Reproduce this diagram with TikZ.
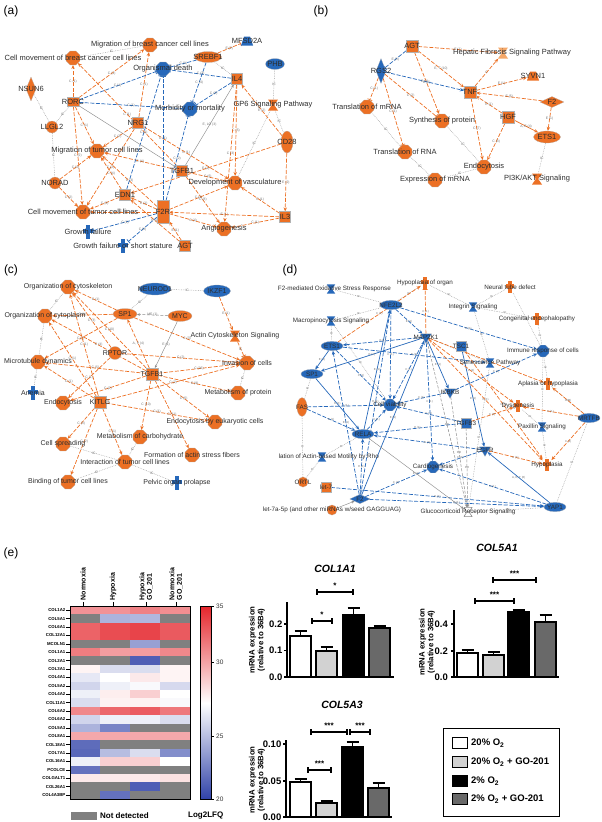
\documentclass[tikz,border=0pt]{standalone}
\usepackage{fontspec}
\setmainfont{Liberation Sans}
\usetikzlibrary{shapes.geometric,arrows.meta,backgrounds}

\definecolor{iporange}{RGB}{236,112,36}
\definecolor{ipblue}{RGB}{38,104,186}
\definecolor{iplight}{RGB}{245,168,105}
\definecolor{labgray}{RGB}{45,45,45}
\definecolor{hmred}{RGB}{228,38,44}
\definecolor{hmblue}{RGB}{48,66,168}
\definecolor{hmgray}{RGB}{128,128,128}
\definecolor{barlight}{RGB}{210,210,210}
\definecolor{bardark}{RGB}{105,105,105}

\tikzset{
  % node shapes
  ipanode/.style={inner sep=0pt, draw=black!30, line width=0.2pt},
  func/.style={ipanode, regular polygon, regular polygon sides=8, minimum size=15pt, fill=#1},
  sq/.style={ipanode, rectangle, minimum size=11pt, fill=#1},
  ell/.style={ipanode, ellipse, minimum width=24pt, minimum height=11pt, fill=#1},
  vell/.style={ipanode, ellipse, minimum width=12pt, minimum height=22pt, fill=#1},
  circ/.style={ipanode, circle, minimum size=12pt, fill=#1},
  vrect/.style={ipanode, rectangle, minimum width=12pt, minimum height=23pt, fill=#1},
  vdia/.style={ipanode, diamond, minimum width=10pt, minimum height=24pt, fill=#1},
  hdia/.style={ipanode, diamond, minimum width=24pt, minimum height=11pt, fill=#1},
  kin/.style={ipanode, regular polygon, regular polygon sides=3, shape border rotate=180, minimum size=15pt, fill=#1},
  trap/.style={rectangle, inner sep=0pt, minimum width=12pt, minimum height=9pt,
    path picture={\fill[#1] (path picture bounding box.south west) -- (path picture bounding box.south east)
      -- ([xshift=-3pt]path picture bounding box.north east) -- ([xshift=3pt]path picture bounding box.north west) -- cycle;}},
  hg/.style={rectangle, inner sep=0pt, minimum width=10pt, minimum height=11pt,
    path picture={\fill[#1] (path picture bounding box.north west) -- (path picture bounding box.north east)
      -- ([xshift=1.2pt]path picture bounding box.center) -- (path picture bounding box.south east)
      -- (path picture bounding box.south west) -- ([xshift=-1.2pt]path picture bounding box.center) -- cycle;}},
  hgw/.style={rectangle, inner sep=0pt, minimum width=10pt, minimum height=11pt,
    path picture={\filldraw[fill=white, draw=black!45, line width=0.6pt] (path picture bounding box.north west) -- (path picture bounding box.north east)
      -- ([xshift=1.2pt]path picture bounding box.center) -- (path picture bounding box.south east)
      -- (path picture bounding box.south west) -- ([xshift=-1.2pt]path picture bounding box.center) -- cycle;}},
  dis/.style={rectangle, inner sep=0pt, minimum width=10pt, minimum height=14pt,
    path picture={\fill[#1] ([xshift=-2pt]path picture bounding box.south) rectangle ([xshift=2pt]path picture bounding box.north);
      \fill[#1] ([yshift=-1pt]path picture bounding box.west) rectangle ([yshift=3pt]path picture bounding box.east);}},
  % texts
  ltxt/.style={font=\fontsize{7.5}{8}\selectfont, text=labgray, inner sep=0pt},
  lab/.style={label={[ltxt]center:{#1}}},
  el/.style={font=\fontsize{3.4}{3.4}\selectfont, text=black!55, inner sep=0.4pt},
  plab/.style={font=\fontsize{12}{12}\selectfont, inner sep=0pt},
  % connectors
  act/.style={draw=iporange, line width=0.7pt, dash pattern=on 4pt off 1.6pt, -{Stealth[length=4pt,width=3.4pt]}},
  acti/.style={draw=iporange, line width=0.7pt, dash pattern=on 4pt off 1.6pt, -{Bar[width=5pt]}},
  osol/.style={draw=iporange, line width=0.7pt, -{Stealth[length=4pt,width=3.4pt]}},
  inh/.style={draw=ipblue, line width=0.7pt, dash pattern=on 4pt off 1.6pt, -{Bar[width=5pt]}},
  bact/.style={draw=ipblue, line width=0.7pt, dash pattern=on 4pt off 1.6pt, -{Stealth[length=4pt,width=3.4pt]}},
  bsol/.style={draw=ipblue, line width=0.7pt, -{Stealth[length=4pt,width=3.4pt]}},
  ic/.style={draw=black!40, line width=0.45pt, dash pattern=on 0.7pt off 1pt},
  gsol/.style={draw=black!45, line width=0.45pt, -{Stealth[length=3pt,width=2.6pt]}},
  gdash/.style={draw=black!45, line width=0.5pt, dash pattern=on 3pt off 1.5pt, -{Stealth[length=3pt,width=2.6pt]}},
  % heat map and bar charts
  rowlab/.style={font=\bfseries\fontsize{4.3}{4.3}\selectfont, anchor=east, inner sep=0.5pt},
  collab/.style={font=\bfseries\fontsize{7}{7.6}\selectfont, rotate=90, anchor=west, align=left, inner sep=0.5pt},
  cblab/.style={font=\fontsize{6.5}{6.5}\selectfont, anchor=west, inner sep=0pt, text=black!80},
  keylab/.style={font=\bfseries\fontsize{8}{8}\selectfont, anchor=west, inner sep=0pt},
  axisline/.style={line width=1.2pt},
  barbox/.style={draw=black, line width=1.2pt},
  ticklab/.style={font=\bfseries\fontsize{9.5}{9.5}\selectfont, anchor=east, inner sep=0pt},
  ylab/.style={font=\bfseries\fontsize{7.8}{8.6}\selectfont, rotate=90, align=center, inner sep=0pt},
  ctitle/.style={font=\bfseries\itshape\fontsize{10.5}{10.5}\selectfont, inner sep=0pt},
  star/.style={font=\bfseries\fontsize{8}{8}\selectfont, inner sep=0pt},
  legtext/.style={font=\bfseries\fontsize{9.5}{9.5}\selectfont, anchor=west, inner sep=0pt},
}

\begin{document}
\begin{tikzpicture}[x=1pt, y=-1pt, font=\fontsize{7.5}{8}\selectfont]
  \useasboundingbox (0,0) rectangle (602,822);

  % Panel letters
  \node[plab] (lab-a) at (11,11) {(a)} ;
  \node[plab] (lab-b) at (321,11) {(b)} ;
  \node[plab] (lab-c) at (11,270) {(c)} ;
  \node[plab] (lab-d) at (290,270) {(d)} ;
  \node[plab] (lab-e) at (11,553) {(e)} ;

  % (a) Nodes
  \node[func=iporange, lab={Migration of breast cancer cell lines}] (a-brmig) at (150,45) {} ; %
  \node[func=iporange, lab={Cell movement of breast cancer cell lines}] (a-brmov) at (73,58) {} ; %
  \node[trap=ipblue, lab={MFSD2A}] (a-mfsd) at (247,41) {} ; %
  \node[ell=iporange, minimum width=27pt, lab={SREBF1}] (a-srebf) at (208,57) {} ; %
  \node[ell=ipblue, minimum width=19pt, lab={PHB}] (a-phb) at (275,64) {} ; %
  \node[func=ipblue, lab={Organismal death}] (a-death) at (163,69) {} ; %
  \node[sq=iporange, lab={IL4}] (a-il4) at (237,79) {} ; %
  \node[vdia=iporange, lab={NSUN6}] (a-nsun) at (31,89) {} ; %
  \node[sq=iporange, minimum width=12pt, minimum height=9pt, lab={RORC}] (a-rorc) at (73,102) {} ; %
  \node[func=ipblue, lab={Morbidity or mortality}] (a-morb) at (190,109) {} ; %
  \node[hg=iporange, lab={GP6 Signaling Pathway}] (a-gp6) at (273,105) {} ; %
  \node[circ=iporange, lab={LLGL2}] (a-llgl) at (52,127) {} ; %
  \node[sq=iporange, lab={NRG1}] (a-nrg) at (138,123) {} ; %
  \node[vell=iporange, lab={CD28}] (a-cd28) at (287,142) {} ; %
  \node[func=iporange, lab={Migration of tumor cell lines}] (a-tumig) at (97,151) {} ; %
  \node[sq=iporange, lab={TGFB1}] (a-tgfb) at (182,171) {} ; %
  \node[circ=iporange, lab={NORAD}] (a-norad) at (55,183) {} ; %
  \node[func=iporange, lab={Development of vasculature}] (a-vasc) at (235,183) {} ; %
  \node[sq=iporange, lab={EDN1}] (a-edn) at (125,195) {} ; %
  \node[vrect=iporange, lab={F2R}] (a-f2r) at (163,212) {} ; %
  \node[func=iporange, lab={Cell movement of tumor cell lines}] (a-tumov) at (83,212) {} ; %
  \node[sq=iporange, lab={IL3}] (a-il3) at (285,217) {} ; %
  \node[func=iporange, lab={Angiogenesis}] (a-angio) at (224,229) {} ; %
  \node[dis=ipblue, lab={Growth failure}] (a-gf) at (88,232) {} ; %
  \node[dis=ipblue, lab={Growth failure or short stature}] (a-gfs) at (123,246) {} ; %
  \node[sq=iporange, lab={AGT}] (a-agt) at (185,246) {} ; %

  % (a) Edges
  \begin{scope}[on background layer]
    \foreach \s/\t in {a-nsun/a-llgl, a-llgl/a-rorc, a-llgl/a-norad, a-brmov/a-brmig, a-srebf/a-il4,
        a-phb/a-gp6, a-gp6/a-cd28, a-gp6/a-vasc}
      \draw[ic] (\s) -- node[el]{IC} (\t) ;
    \foreach \s/\t/\l in {a-rorc/a-brmov/C (1), a-rorc/a-brmig/C (1), a-rorc/a-tumig/C (1), a-rorc/a-tumov/C (2),
        a-tgfb/a-brmov/C (1), a-nrg/a-brmig/C (1), a-nrg/a-tumig/C (2), a-nrg/a-tumov/C (2), a-nrg/a-vasc/C (1),
        a-tgfb/a-tumig/C (4), a-tgfb/a-vasc/C (6), a-tgfb/a-angio/C (8), a-f2r/a-tumig/C (3), a-f2r/a-tumov/C (3),
        a-f2r/a-edn/E (1), a-f2r/a-vasc/C (4), a-f2r/a-angio/C (4), a-edn/a-tumig/C (4), a-edn/a-tumov/C (3),
        a-norad/a-tumig/C (2), a-norad/a-tumov/C (2), a-agt/a-f2r/E (1), a-agt/a-edn/E (2), a-il3/a-f2r/E (1),
        a-il3/a-angio/C (1), a-il3/a-vasc/C (1), a-cd28/a-il4/E (2), a-cd28/a-il3/E (2), a-cd28/a-edn/E (1),
        a-il4/a-vasc/C (5), a-il4/a-angio/C (3)}
      \draw[act] (\s) -- node[el]{\l} (\t) ;
    \draw[acti] (a-srebf) -- node[el]{E (2)} (a-mfsd) ;
    \foreach \s/\t/\l in {a-rorc/a-death/C (1), a-rorc/a-morb/C (1), a-srebf/a-death/C (1), a-srebf/a-morb/C (4),
        a-il4/a-death/C (3), a-il4/a-morb/C (3), a-f2r/a-death/C (1), a-f2r/a-morb/C (2), a-edn/a-death/C (1),
        a-f2r/a-gf/C (1), a-f2r/a-gfs/C (2)}
      \draw[inh] (\s) -- node[el]{\l} (\t) ;
    \draw[gsol] (a-rorc) -- (a-tgfb) ;
    \draw[gsol] (a-tgfb) -- node[el]{E, LO (3)} (a-il4) ;
  \end{scope}

  % (b) Nodes
  \node[sq=iporange, minimum size=12pt, lab={AGT}] (b-agt) at (412,46) {} ; %
  \node[hg=iplight, label={[ltxt, xshift=9pt]center:Hepatic Fibrosis Signaling Pathway}] (b-hep) at (503,53) {} ; %
  \node[vdia=ipblue, minimum height=25pt, lab={RGS2}] (b-rgs) at (381,71) {} ; %
  \node[trap=iporange, lab={SYVN1}] (b-syvn) at (533,76) {} ; %
  \node[sq=iporange, minimum size=12pt, lab={TNF}] (b-tnf) at (470,92) {} ; %
  \node[hdia=iporange, lab={F2}] (b-f2) at (552,102) {} ; %
  \node[func=iporange, lab={Translation of mRNA}] (b-trm) at (367,107) {} ; %
  \node[func=iporange, lab={Synthesis of protein}] (b-syn) at (442,121) {} ; %
  \node[sq=iporange, minimum size=12pt, lab={HGF}] (b-hgf) at (508,117) {} ; %
  \node[ell=iporange, minimum width=27pt, minimum height=12pt, lab={ETS1}] (b-ets) at (547,137) {} ; %
  \node[func=iporange, lab={Translation of RNA}] (b-trr) at (405,152) {} ; %
  \node[func=iporange, lab={Endocytosis}] (b-endo) at (484,167) {} ; %
  \node[func=iporange, lab={Expression of mRNA}] (b-exp) at (435,180) {} ; %
  \node[hg=iporange, lab={PI3K/AKT Signaling}] (b-pi3k) at (537,179) {} ; %

  % (b) Edges
  \begin{scope}[on background layer]
    \foreach \s/\t in {b-trm/b-trr, b-trr/b-exp, b-exp/b-endo, b-syn/b-endo, b-ets/b-pi3k}
      \draw[ic] (\s) -- node[el]{IC} (\t) ;
    \foreach \s/\t/\l in {b-agt/b-hep/E (1), {b-agt/b-tnf/E, T (10)}, b-agt/b-syn/E (1), b-tnf/b-hep/C,
        b-tnf/b-syvn/E (1), b-tnf/b-endo/C (7), b-f2/b-tnf/E (5), b-f2/b-ets/E (1), b-hgf/b-tnf/E (1),
        b-hgf/b-endo/C (3)}
      \draw[act] (\s) -- node[el]{\l} (\t) ;
    \foreach \s/\t/\l in {b-rgs/b-trm/C (1), b-rgs/b-trr/C (1), b-rgs/b-syn/C (2)}
      \draw[acti] (\s) -- node[el]{\l} (\t) ;
    \draw[inh] (b-agt) -- node[el]{E (1)} (b-rgs) ;
    \draw[bact] (b-rgs) -- node[el]{E (1)} (b-tnf) ;
    \draw[osol] (b-hgf) -- node[el]{A, E (4)} (b-ets) ;
  \end{scope}

  % (c) Nodes
  \begin{scope}[ltxt/.append style={font=\fontsize{7}{7}\selectfont}]
    \node[func=iporange, lab={Organization of cytoskeleton}] (c-orgcs) at (68,287) {} ; %
    \node[ell=ipblue, minimum width=32pt, minimum height=12pt, lab={NEUROD1}] (c-neuro) at (155,289) {} ; %
    \node[ell=ipblue, minimum width=27pt, minimum height=12pt, lab={IKZF1}] (c-ikzf) at (217,291) {} ; %
    \node[func=iporange, lab={Organization of cytoplasm}] (c-orgcp) at (45,316) {} ; %
    \node[ell=iporange, lab={SP1}] (c-sp1) at (125,314) {} ; %
    \node[ell=iporange, lab={MYC}] (c-myc) at (180,316) {} ; %
    \node[hg=iporange, lab={Actin Cytoskeleton Signaling}] (c-actin) at (235,336) {} ; %
    \node[circ=iporange, minimum size=13pt, lab={RPTOR}] (c-rptor) at (115,353) {} ; %
    \node[func=iporange, lab={Microtubule dynamics}] (c-micro) at (38,362) {} ; %
    \node[func=iporange, lab={Invasion of cells}] (c-inv) at (247,363) {} ; %
    \node[sq=iporange, minimum size=12pt, lab={TGFB1}] (c-tgfb) at (152,374) {} ; %
    \node[dis=ipblue, lab={Anemia}] (c-anemia) at (33,393) {} ; %
    \node[func=iporange, lab={Metabolism of protein}] (c-metp) at (238,393) {} ; %
    \node[func=iporange, lab={Endocytosis}] (c-endo) at (63,403) {} ; %
    \node[sq=iporange, minimum size=12pt, lab={KITLG}] (c-kitlg) at (100,402) {} ; %
    \node[func=iporange, lab={Endocytosis by eukaryotic cells}] (c-endoe) at (215,422) {} ; %
    \node[func=iporange, lab={Metabolism of carbohydrate}] (c-metc) at (140,437) {} ; %
    \node[func=iporange, lab={Cell spreading}] (c-spread) at (63,444) {} ; %
    \node[func=iporange, lab={Formation of actin stress fibers}] (c-actf) at (192,455) {} ; %
    \node[func=iporange, lab={Interaction of tumor cell lines}] (c-inter) at (125,462) {} ; %
    \node[func=iporange, lab={Binding of tumor cell lines}] (c-bind) at (68,482) {} ; %
    \node[dis=ipblue, lab={Pelvic organ prolapse}] (c-pelvic) at (177,483) {} ; %
  \end{scope}

  % (c) Edges
  \begin{scope}[on background layer]
    \foreach \s/\t in {c-orgcs/c-orgcp, c-orgcp/c-micro, c-micro/c-anemia, c-neuro/c-sp1, c-neuro/c-ikzf,
        c-inv/c-metp, c-spread/c-inter, c-bind/c-inter, c-inter/c-pelvic, c-metc/c-inter}
      \draw[ic] (\s) -- node[el]{IC} (\t) ;
    \foreach \s/\t/\l in {c-sp1/c-orgcs/C (1), c-sp1/c-orgcp/C (1), c-sp1/c-micro/C (2), c-sp1/c-inv/C (3),
        {c-tgfb/c-sp1/A, P (4)}, c-tgfb/c-orgcs/C (10), c-tgfb/c-orgcp/C (4), c-tgfb/c-micro/C (5),
        c-tgfb/c-inv/C (36), c-tgfb/c-metp/C (8), c-tgfb/c-endoe/C (6), c-tgfb/c-metc/C (10),
        c-tgfb/c-actf/C (11), c-tgfb/c-endo/C (2), c-rptor/c-orgcs/C (3), c-rptor/c-endo/C (1),
        c-rptor/c-inv/C (2), c-kitlg/c-orgcs/C (1), c-kitlg/c-orgcp/C (1), c-kitlg/c-micro/C (1),
        c-kitlg/c-inv/C (2), c-kitlg/c-spread/C (3), c-kitlg/c-bind/C (2), c-kitlg/c-inter/C (1),
        c-kitlg/c-endoe/C (1), c-ikzf/c-actin/E (1)}
      \draw[act] (\s) -- node[el]{\l} (\t) ;
    \draw[acti] (c-actin) -- node[el]{IC} (c-inv) ;
    \draw[gdash] (c-myc) -- node[el]{ME (1)} (c-sp1) ;
    \draw[gsol] (c-myc) -- node[el]{E (1)} (c-tgfb) ;
  \end{scope}

  % (d) Nodes
  \begin{scope}[every node/.append style={scale=0.85}, ltxt/.append style={font=\fontsize{7.4}{7.4}\selectfont}]
    \node[dis=iporange, lab={Hypoplasia of organ}] (d-hypo) at (425,283) {} ; %
    \node[dis=iporange, lab={Neural tube defect}] (d-neural) at (510,287) {} ; %
    \node[hg=ipblue, label={[ltxt, xshift=4pt]center:F2-mediated Oxidative Stress Response}] (d-nrf) at (331,289) {} ; %
    \node[ell=ipblue, minimum width=26pt, lab={NFE2L2}] (d-nfe) at (391,305) {} ; %
    \node[hg=ipblue, lab={Integrin Signaling}] (d-integ) at (473,307) {} ; %
    \node[hg=ipblue, lab={Macropinocytosis Signaling}] (d-macro) at (331,321) {} ; %
    \node[dis=iporange, lab={Congenital encephalopathy}] (d-cong) at (537,319) {} ; %
    \node[kin=ipblue, lab={MAP2K1}] (d-map) at (426,337) {} ; %
    \node[ell=ipblue, minimum width=26pt, lab={ETS1}] (d-ets) at (332,346) {} ; %
    \node[sq=ipblue, lab={TSC1}] (d-tsc) at (461,346) {} ; %
    \node[func=ipblue, lab={Immune response of cells}] (d-immune) at (543,351) {} ; %
    \node[hg=ipblue, lab={Senescence Pathway}] (d-sen) at (490,363) {} ; %
    \node[ell=ipblue, minimum width=26pt, lab={SP1}] (d-sp1) at (312,374) {} ; %
    \node[dis=iporange, lab={Aplasia or hypoplasia}] (d-aplasia) at (548,384) {} ; %
    \node[kin=ipblue, lab={IKBKB}] (d-ikbkb) at (450,392) {} ; %
    \node[vell=iporange, lab={FAS}] (d-fas) at (302,407) {} ; %
    \node[func=ipblue, lab={Cell viability}] (d-viab) at (390,405) {} ; %
    \node[dis=iporange, lab={Dysgenesis}] (d-dysg) at (518,406) {} ; %
    \node[ell=ipblue, minimum width=26pt, lab={MRTFB}] (d-mrtfb) at (589,418) {} ; %
    \node[sq=ipblue, lab={TGFB3}] (d-tgfb3) at (466,423) {} ; %
    \node[hg=ipblue, lab={Paxillin Signaling}] (d-pax) at (542,427) {} ; %
    \node[ell=ipblue, minimum width=26pt, lab={RELA}] (d-rela) at (363,434) {} ; %
    \node[hg=ipblue, label={[ltxt, xshift=8pt]center:lation of Actin-based Motility by Rho}] (d-rho) at (322,457) {} ; %
    \node[kin=ipblue, lab={EGFR}] (d-egfr) at (485,450) {} ; %
    \node[func=ipblue, lab={Cardiogenesis}] (d-cardio) at (433,467) {} ; %
    \node[dis=iporange, lab={Hypoplasia}] (d-hypop) at (547,465) {} ; %
    \node[circ=iporange, lab={ORTL}] (d-ortl) at (303,482) {} ; %
    \node[sq=iporange, lab={let-7}] (d-let7) at (326,487) {} ; %
    \node[hdia=ipblue, lab={F2}] (d-f2) at (360,499) {} ; %
    \node[circ=iporange, lab={let-7a-5p (and other miRNAs w/seed GAGGUAG)}] (d-let7a) at (332,510) {} ; %
    \node[hgw, lab={Glucocorticoid Receptor Signaling}] (d-gluco) at (468,512) {} ; %
    \node[ell=ipblue, minimum width=26pt, lab={YAP1}] (d-yap) at (555,507) {} ; %

  % (d) Edges
  \begin{scope}[on background layer]
    \foreach \s/\t in {d-nrf/d-nfe, d-macro/d-ets, d-macro/d-nfe, d-integ/d-neural, d-integ/d-cong,
        d-integ/d-sen, d-integ/d-hypo, d-cong/d-immune, d-immune/d-aplasia, d-immune/d-pax, d-pax/d-hypop,
        d-mrtfb/d-yap, d-dysg/d-pax, d-sen/d-map, d-rho/d-rela, d-fas/d-ortl, d-rho/d-ortl, d-sp1/d-fas,
        d-gluco/d-yap, d-neural/d-immune, d-viab/d-macro, d-hypo/d-nfe, d-aplasia/d-mrtfb, d-gluco/d-sen}
      \draw[ic] (\s) -- node[el]{IC} (\t) ;
    \foreach \s/\t/\l in {d-ets/d-sp1/E (1), d-map/d-sp1/E (1), d-sp1/d-rela/E (1), d-rela/d-nfe/E (1),
        d-map/d-ikbkb/E (1), d-f2/d-map/E (1), d-tsc/d-egfr/E (1), {d-yap/d-egfr/A, E, T (8)}}
      \draw[bsol] (\s) -- node[el]{\l} (\t) ;
    \foreach \s/\t/\l in {d-nfe/d-immune/E (1), d-nfe/d-viab/C (1), d-ets/d-sen/E (1), d-ets/d-viab/C (1),
        d-fas/d-viab/C (1), d-fas/d-rela/E (1), d-rela/d-viab/C (1), d-f2/d-ets/E (1), d-f2/d-nfe/E (1),
        d-f2/d-rela/E (1), d-f2/d-cardio/C (1), d-let7/d-yap/E (1), d-f2/d-yap/E (1), d-tgfb3/d-viab/C (1),
        d-tgfb3/d-rela/E (1), d-egfr/d-rela/E (1), d-egfr/d-cardio/C (1), d-yap/d-cardio/C (1),
        d-ikbkb/d-viab/C (1), d-ikbkb/d-immune/C (1), d-map/d-cardio/C (1), d-map/d-viab/C (1),
        d-map/d-ets/E (1), d-nfe/d-map/E (1)}
      \draw[bact] (\s) -- node[el]{\l} (\t) ;
    \foreach \s/\t/\l in {d-ets/d-hypo/C (1), d-map/d-dysg/C (1), d-map/d-aplasia/C (1), d-map/d-hypop/C (1),
        d-tgfb3/d-dysg/C (1), d-mrtfb/d-hypop/C (1), d-mrtfb/d-aplasia/C (1), d-mrtfb/d-dysg/C (1),
        d-egfr/d-hypop/C (1), d-tsc/d-hypop/C (1)}
      \draw[act] (\s) -- node[el]{\l} (\t) ;
    \draw[acti] (d-map) -- node[el]{C (1)} (d-hypo) ;
    \foreach \s/\t in {d-map/d-gluco, d-ikbkb/d-gluco, d-tgfb3/d-gluco}
      \draw[gdash] (\s) -- node[el]{DD} (\t) ;
    \draw[gsol] (d-let7a) -- (d-f2) ;
    \draw[gsol] (d-rela) -- node[el]{E (1)} (d-gluco) ;
  \end{scope}
  \end{scope}

  % (e) Heat map
  \foreach \g/\ca/\cb/\cc/\cd [count=\i] in {
      COL1A2/hmred!50/hmred!50/hmred!58/hmred!52, COL5A1/hmgray/hmblue!40/hmblue!38/hmgray,
      COL6A1/hmred!72/hmred!82/hmred!86/hmred!76, COL12A1/hmred!72/hmred!82/hmred!86/hmred!76,
      MCOLN1/hmgray/hmgray/hmblue!50/hmgray, COL1A1/hmred!60/hmred!45/hmred!45/hmred!55,
      COL2A1/hmgray/hmgray/hmblue!85/hmgray, COL3A1/hmred!5/hmblue!18/hmblue!18/hmred!5,
      COL4A1/hmblue!12/white/hmred!10/hmred!5, COL5A2/hmblue!22/hmblue!8/hmblue!3/hmblue!20,
      COL4A2/hmblue!8/hmred!8/hmred!22/white, COL11A1/hmblue!18/hmred!6/hmred!6/hmblue!3,
      COL6A2/hmred!55/hmred!70/hmred!75/hmred!62, COL6A2/hmblue!22/hmblue!8/hmblue!8/hmblue!18,
      COL5A3/hmblue!40/hmblue!65/hmgray/hmgray, COL8A1/hmred!40/hmred!40/hmred!40/hmred!40,
      COL18A1/hmblue!78/hmgray/hmgray/hmgray, COL7A1/hmblue!80/hmblue!35/hmblue!18/hmblue!60,
      COL16A1/hmblue!8/hmred!22/hmred!22/white, PCOLCE/hmblue!75/hmgray/hmgray/hmgray,
      COLGALT1/hmred!10/hmred!10/hmred!10/hmred!14, COL26A1/hmgray/hmgray/hmblue!85/hmgray,
      COL4A3BP/hmgray/hmblue!75/hmgray/hmgray} {
    \pgfmathsetmacro\yy{606+(\i-1)*8.4}
    \foreach \c [count=\j] in {\ca,\cb,\cc,\cd}
      \fill[fill=\c] ({40+30*\j},\yy) rectangle ++(30.2,8.6) ;
    \node[rowlab] (hm-\i) at (66,{\yy+4.2}) {\g} ;
    \draw[line width=0.5pt] (66,{\yy+4.2}) -- (70,{\yy+4.2}) ;
  }
  \draw[line width=0.8pt] (70,606) rectangle (190,799.2) ;
  \foreach \x/\t [count=\k] in {83/Normoxia, 113/Hypoxia, 146/Hypoxia\\GO\_201, 176/Normoxia\\GO\_201} {
    \draw[line width=0.5pt] (\x,602) -- (\x,606) ;
    \node[collab] (col-\k) at (\x,601) {\t} ;
  }
  % colour bar
  \shade[top color=hmred, bottom color=white] (200,606) rectangle (211,703) ;
  \shade[top color=white, bottom color=hmblue] (200,703) rectangle (211,799) ;
  \draw[line width=0.6pt] (200,606) rectangle (211,799) ;
  \foreach \v/\y in {35/606, 30/662, 25/736, 20/799} {
    \draw[line width=0.5pt] (211,\y) -- (214,\y) ;
    \node[cblab] (cb-\v) at (216,\y) {\v} ;
  }
  \fill[hmgray] (71,812) rectangle (97,820) ;
  \node[keylab] (key-nd) at (100,816) {Not detected} ;
  \node[keylab] (key-lfq) at (188,816) {Log2LFQ} ;

  % (e) COL1A1
  \node[ctitle] (t-col1a1) at (335,569) {COL1A1} ;
  \draw[axisline] (287,602) -- (287,677) -- (394,677) ;
  \foreach \v/\y in {0.0/677, 0.1/650.5, 0.2/624} {
    \draw[axisline] (284,\y) -- (287,\y) ;
    \node[ticklab] at (282.5,\y) {\v} ;
  }
  \foreach \xl/\top/\err/\col in {290/636/631/white, 316/651/647/barlight, 343/615/608/black, 369/628/626/bardark} {
    \draw[barbox] ({\xl+10.5},\top) -- ({\xl+10.5},\err) ({\xl+4.5},\err) -- ({\xl+16.5},\err) ;
    \draw[barbox, fill=\col] (\xl,677) rectangle ({\xl+21},\top) ;
  }
  \draw[barbox] (317,589) -- (317,595) (317,592) -- (353,592) (353,589) -- (353,595) ;
  \node[star] (s-1a) at (335,586) {*} ;
  \draw[barbox] (312,618) -- (312,624) (312,621) -- (332,621) (332,618) -- (332,624) ;
  \node[star] (s-1b) at (322,615) {*} ;
  \node[ylab] (y-col1a1) at (257,640) {mRNA expression\\(relative to 36B4)} ;

  % (e) COL5A1
  \node[ctitle] (t-col5a1) at (497,548) {COL5A1} ;
  \draw[axisline] (454,610) -- (454,677) -- (559,677) ;
  \foreach \v/\y in {0.0/677, 0.2/651, 0.4/624} {
    \draw[axisline] (451,\y) -- (454,\y) ;
    \node[ticklab] at (448,\y) {\v} ;
  }
  \foreach \xl/\top/\err/\col in {457/653/650/white, 483/655/652/barlight, 508/612/610/black, 535/622/615/bardark} {
    \draw[barbox] ({\xl+10.5},\top) -- ({\xl+10.5},\err) ({\xl+4.5},\err) -- ({\xl+16.5},\err) ;
    \draw[barbox, fill=\col] (\xl,677) rectangle ({\xl+21},\top) ;
  }
  \draw[barbox] (475,598) -- (475,604) (475,601) -- (514,601) (514,598) -- (514,604) ;
  \node[star] (s-5a) at (494.5,595) {***} ;
  \draw[barbox] (493,577) -- (493,583) (493,580) -- (536,580) (536,577) -- (536,583) ;
  \node[star] (s-5b) at (514.5,574) {***} ;
  \node[ylab] (y-col5a1) at (427,642) {mRNA expression\\(relative to 36B4)} ;

  % (e) COL5A3
  \node[ctitle] (t-col5a3) at (342,705) {COL5A3} ;
  \draw[axisline] (286,740) -- (286,817) -- (392,817) ;
  \foreach \v/\y in {0.00/817, 0.05/781, 0.10/744} {
    \draw[axisline] (283,\y) -- (286,\y) ;
    \node[ticklab] at (281.5,\y) {\v} ;
  }
  \foreach \xl/\top/\err/\col in {290/782/779/white, 316/803/801/barlight, 342/747/742/black, 368/788/783/bardark} {
    \draw[barbox] ({\xl+10.5},\top) -- ({\xl+10.5},\err) ({\xl+4.5},\err) -- ({\xl+16.5},\err) ;
    \draw[barbox, fill=\col] (\xl,817) rectangle ({\xl+21},\top) ;
  }
  \draw[barbox] (311,729) -- (311,735) (311,732) -- (347,732) (347,729) -- (347,735) ;
  \node[star] (s-3a) at (329,726) {***} ;
  \draw[barbox] (350,729) -- (350,735) (350,732) -- (370,732) (370,729) -- (370,735) ;
  \node[star] (s-3b) at (360,726) {***} ;
  \draw[barbox] (308,767) -- (308,773) (308,770) -- (331,770) (331,767) -- (331,773) ;
  \node[star] (s-3c) at (319.5,764) {***} ;
  \node[ylab] (y-col5a3) at (257,780) {mRNA expression\\(relative to 36B4)} ;

  % (e) Key
  \draw[line width=1pt] (443,728) rectangle (559,816) ;
  \foreach \y/\col/\t [count=\k] in {743/white/20\% O\textsubscript{2}, 762/barlight/20\% O\textsubscript{2} + GO-201,
      781/black/2\% O\textsubscript{2}, 799/bardark/2\% O\textsubscript{2} + GO-201} {
    \draw[line width=1pt, fill=\col] (452,{\y-5.5}) rectangle (467,{\y+5.5}) ;
    \node[legtext] (leg-\k) at (471,\y) {\t} ;
  }
\end{tikzpicture}
\end{document}
